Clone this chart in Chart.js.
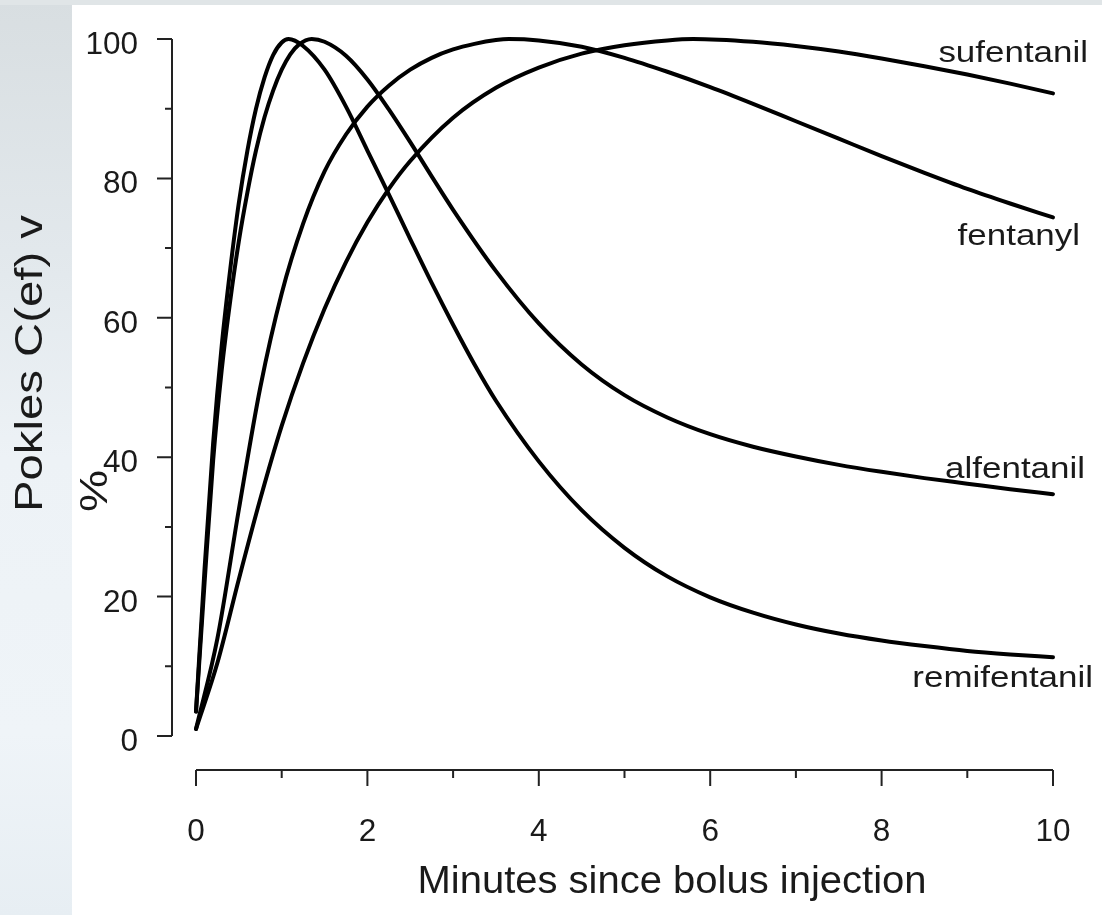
<!DOCTYPE html>
<html>
<head>
<meta charset="UTF-8">
<title>Pokles C(ef)</title>
<script src="https://cdn.jsdelivr.net/npm/chart.js"></script>
<style>
  html, body { margin: 0; padding: 0; background: #fff; }
  canvas { display: block; }
</style>
</head>
<body>
<canvas id="c" width="1102" height="915"></canvas>
<script>
// values: minutes since bolus, % of peak C(ef)
const remiT = [0, 0.1, 0.2, 0.3, 0.4, 0.5, 0.6, 0.7, 0.8, 0.9, 1.0, 1.08, 1.25, 1.5, 1.75, 2, 2.25, 2.5, 2.75, 3, 3.25, 3.5, 4, 4.5, 5, 5.5, 6, 6.5, 7, 7.5, 8, 8.5, 9, 9.5, 10];
const remiV = [3.5, 24, 42, 56, 67, 76.5, 84, 90, 94.5, 97.7, 99.5, 100, 99.0, 95.6, 90.3, 84, 77.7, 71.3, 65, 59, 53.3, 48.1, 39.4, 32.4, 27.0, 22.9, 19.9, 17.7, 16.0, 14.7, 13.7, 12.9, 12.2, 11.7, 11.3];

const alfT = [0, 0.1, 0.2, 0.3, 0.4, 0.5, 0.6, 0.7, 0.8, 0.9, 1.0, 1.1, 1.2, 1.35, 1.5, 1.75, 2, 2.25, 2.5, 2.75, 3, 3.5, 4, 4.5, 5, 5.5, 6, 6.5, 7, 7.5, 8, 8.5, 9, 9.5, 10];
const alfV = [3.5, 22, 39.5, 52.5, 62.5, 71, 78, 84, 88.8, 92.6, 95.6, 97.8, 99.2, 100, 99.6, 97.6, 94.2, 89.9, 85.2, 80.3, 75.5, 66.7, 59.2, 53.3, 48.9, 45.7, 43.3, 41.5, 40.1, 38.9, 37.9, 37.0, 36.2, 35.4, 34.7];

const fentT = [0, 0.25, 0.5, 0.75, 1.0, 1.25, 1.5, 1.75, 2, 2.25, 2.5, 2.75, 3, 3.25, 3.5, 3.65, 4, 4.5, 5, 5.5, 6, 6.5, 7, 7.5, 8, 8.5, 9, 9.5, 10];
const fentV = [1, 14, 32.5, 50, 63.5, 73.5, 81, 86.3, 90.3, 93.3, 95.6, 97.3, 98.5, 99.3, 99.85, 100, 99.8, 98.9, 97.3, 95.3, 93.1, 90.7, 88.2, 85.7, 83.2, 80.8, 78.5, 76.4, 74.4];

const sufT = [0, 0.25, 0.5, 0.75, 1.0, 1.25, 1.5, 1.75, 2, 2.25, 2.5, 3, 3.5, 4, 4.5, 5, 5.5, 5.8, 6.5, 7, 7.5, 8, 8.5, 9, 9.5, 10];
const sufV = [1, 10.5, 22.5, 34, 44.5, 53.5, 61.3, 68, 73.7, 78.5, 82.5, 88.7, 93.0, 95.9, 97.9, 99.1, 99.8, 100, 99.6, 99.0, 98.2, 97.2, 96.1, 94.9, 93.6, 92.2];

const drugNames = ['remifentanil', 'alfentanil', 'fentanyl', 'sufentanil'];

const xTicks = [0, 2, 4, 6, 8, 10];
const xMinor = [1, 3, 5, 7, 9];
const yTicks = [0, 20, 40, 60, 80, 100];
const yMinor = [10, 30, 50, 70, 90];

const xTitle = 'Minutes since bolus injection';
const yTitle = ['Pokles C(ef) v', '%'];

const FONT = '"Liberation Sans", Arial, Helvetica, sans-serif';
const INK = '#1a1a1a';

function pts(t, v) {
  return t.map((x, i) => ({ x: x, y: v[i] }));
}

// where each curve label sits relative to the curve's last point (px)
const labelOffset = {
  remifentanil: [40, 30],
  alfentanil: [32, -16],
  fentanyl: [27, 28],
  sufentanil: [35, -31]
};

function text(ctx, s, x, y, size, k, align) {
  ctx.save();
  ctx.font = size + 'px ' + FONT;
  ctx.translate(x, y);
  ctx.scale(k, 1);
  ctx.textAlign = align;
  ctx.textBaseline = 'alphabetic';
  ctx.fillText(s, 0, 0);
  ctx.restore();
}

const backdrop = {
  id: 'backdrop',
  beforeDraw(chart) {
    const ctx = chart.ctx;
    const W = chart.width, H = chart.height;
    ctx.save();
    const g = ctx.createLinearGradient(0, 0, 0, H);
    g.addColorStop(0, '#d8dee1');
    g.addColorStop(0.3, '#e3e9ed');
    g.addColorStop(0.5, '#edf2f6');
    g.addColorStop(0.8, '#eff4f8');
    g.addColorStop(1, '#e7eef3');
    ctx.fillStyle = g;
    ctx.fillRect(0, 0, W, H);
    ctx.fillStyle = '#e0e5e7';
    ctx.fillRect(0, 0, W, 5);
    ctx.fillStyle = '#ffffff';
    ctx.fillRect(72, 5, W - 72, H - 5);
    ctx.restore();
  }
};

const rAxes = {
  id: 'rAxes',
  afterDraw(chart) {
    const ctx = chart.ctx;
    const xs = chart.scales.x, ys = chart.scales.y;
    ctx.save();
    ctx.strokeStyle = '#222';
    ctx.lineWidth = 2;
    ctx.lineCap = 'butt';
    ctx.fillStyle = INK;

    // y axis, offset to the left of the plot
    const ax = 172;
    ctx.beginPath();
    ctx.moveTo(ax, ys.getPixelForValue(0));
    ctx.lineTo(ax, ys.getPixelForValue(100));
    yTicks.forEach(v => {
      const p = ys.getPixelForValue(v);
      ctx.moveTo(ax, p); ctx.lineTo(ax - 15, p);
    });
    yMinor.forEach(v => {
      const p = ys.getPixelForValue(v);
      ctx.moveTo(ax, p); ctx.lineTo(ax - 7, p);
    });
    ctx.stroke();
    yTicks.forEach(v => {
      text(ctx, String(v), 138, ys.getPixelForValue(v) + 15, 31.5, 1, 'right');
    });

    // x axis, offset below the plot
    const ay = 770;
    ctx.beginPath();
    ctx.moveTo(xs.getPixelForValue(0), ay);
    ctx.lineTo(xs.getPixelForValue(10), ay);
    xTicks.forEach(v => {
      const p = xs.getPixelForValue(v);
      ctx.moveTo(p, ay); ctx.lineTo(p, ay + 16);
    });
    xMinor.forEach(v => {
      const p = xs.getPixelForValue(v);
      ctx.moveTo(p, ay); ctx.lineTo(p, ay + 8);
    });
    ctx.stroke();
    xTicks.forEach(v => {
      text(ctx, String(v), xs.getPixelForValue(v), 841, 31.5, 1, 'center');
    });

    // axis titles
    ctx.font = '38px ' + FONT;
    const kx = 509 / ctx.measureText(xTitle).width;
    text(ctx, xTitle, 672, 893, 38, kx, 'center');

    ctx.font = '38px ' + FONT;
    const ky = 297 / ctx.measureText(yTitle[0]).width;
    [[42, yTitle[0]], [107, yTitle[1]]].forEach(([bx, s]) => {
      ctx.save();
      ctx.translate(bx, 512);
      ctx.rotate(-Math.PI / 2);
      text(ctx, s, 0, 0, 38, ky, 'left');
      ctx.restore();
    });

    // curve labels at the right end
    chart.data.datasets.forEach(ds => {
      const last = ds.data[ds.data.length - 1];
      const off = labelOffset[ds.label];
      text(ctx, ds.label, xs.getPixelForValue(last.x) + off[0],
        ys.getPixelForValue(last.y) + off[1], 30, 1.165, 'right');
    });
    ctx.restore();
  }
};

const series = [pts(remiT, remiV), pts(alfT, alfV), pts(fentT, fentV), pts(sufT, sufV)];

new Chart(document.getElementById('c'), {
  type: 'line',
  data: {
    datasets: drugNames.map((name, i) => ({
      label: name,
      data: series[i],
      borderColor: '#000',
      borderWidth: 4,
      borderCapStyle: 'round',
      borderJoinStyle: 'round',
      pointRadius: 0,
      fill: false,
      clip: false,
      cubicInterpolationMode: 'monotone'
    }))
  },
  options: {
    responsive: false,
    animation: false,
    devicePixelRatio: 1,
    layout: { padding: { left: 196, right: 49, top: 39, bottom: 179 } },
    plugins: { legend: { display: false }, tooltip: { enabled: false } },
    scales: {
      x: { type: 'linear', min: 0, max: 10, display: false },
      y: { type: 'linear', min: 0, max: 100, display: false }
    }
  },
  plugins: [backdrop, rAxes]
});
</script>
</body>
</html>
